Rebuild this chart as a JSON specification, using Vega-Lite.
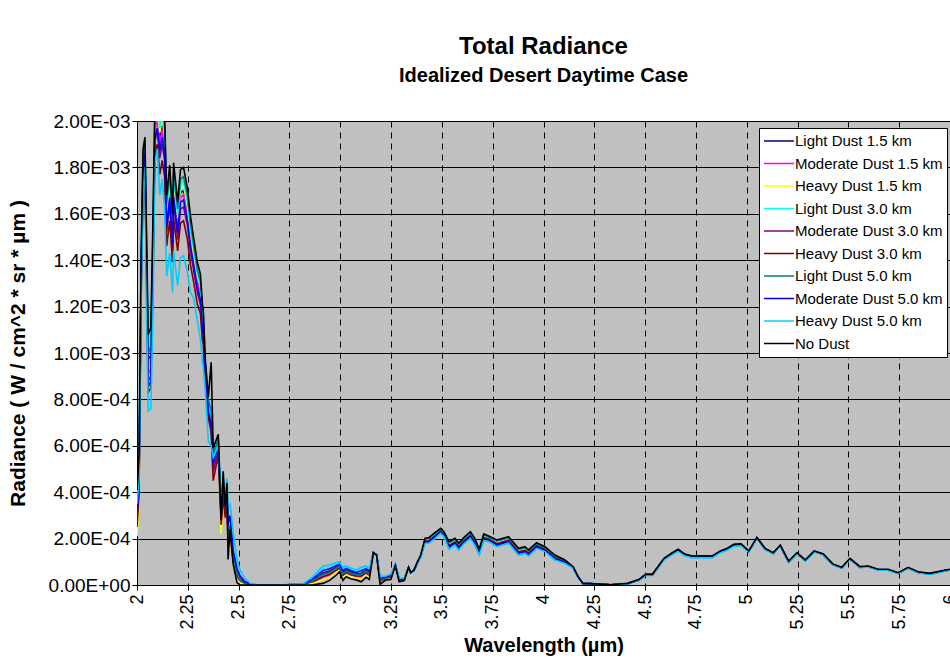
{
  "$schema": "https://vega.github.io/schema/vega-lite/v6.json",
  "autosize": {"type": "none"},
  "padding": {"left": 137, "top": 121, "right": 0, "bottom": 84},
  "width": 813,
  "height": 464,
  "background": "white",
  "title": {
    "text": "Total Radiance",
    "subtitle": "Idealized Desert Daytime Case",
    "font": "Liberation Sans",
    "fontSize": 24,
    "fontWeight": "bold",
    "color": "black",
    "subtitleFont": "Liberation Sans",
    "subtitleFontSize": 20,
    "subtitleFontWeight": "bold",
    "subtitleColor": "black",
    "subtitlePadding": 7,
    "anchor": "middle",
    "offset": 26
  },
  "data": {
    "values": [
      {"w":2.000,"a":3.2e-4,"b":2.8e-4,"c":2.1e-4,"d":3.3e-4,"e":2.9e-4,"f":2.5e-4,"g":3.4e-4,"h":3.0e-4,"i":3.5e-4,"j":4.1e-4},
      {"w":2.010,"a":4.6e-4,"b":4.3e-4,"c":3.6e-4,"d":4.8e-4,"e":4.2e-4,"f":3.9e-4,"g":5.0e-4,"h":4.5e-4,"i":4.6e-4,"j":5.5e-4},
      {"w":2.020,"a":13.2e-4,"b":13.0e-4,"c":12.8e-4,"d":13.5e-4,"e":12.6e-4,"f":12.2e-4,"g":13.7e-4,"h":12.9e-4,"i":12.0e-4,"j":14.0e-4},
      {"w":2.030,"a":18.2e-4,"b":18.0e-4,"c":18.1e-4,"d":18.4e-4,"e":17.6e-4,"f":17.3e-4,"g":18.6e-4,"h":17.9e-4,"i":17.0e-4,"j":18.8e-4},
      {"w":2.039,"a":18.8e-4,"b":18.6e-4,"c":18.8e-4,"d":19.0e-4,"e":18.3e-4,"f":18.0e-4,"g":19.1e-4,"h":18.6e-4,"i":18.0e-4,"j":19.3e-4},
      {"w":2.048,"a":13.6e-4,"b":13.4e-4,"c":13.5e-4,"d":13.9e-4,"e":12.9e-4,"f":12.4e-4,"g":14.1e-4,"h":13.1e-4,"i":11.3e-4,"j":14.5e-4},
      {"w":2.055,"a":9.7e-4,"b":9.1e-4,"c":8.4e-4,"d":9.5e-4,"e":8.8e-4,"f":8.3e-4,"g":10.0e-4,"h":8.5e-4,"i":7.5e-4,"j":10.8e-4},
      {"w":2.068,"a":9.9e-4,"b":9.3e-4,"c":8.7e-4,"d":9.8e-4,"e":9.0e-4,"f":8.5e-4,"g":10.3e-4,"h":8.8e-4,"i":7.6e-4,"j":11.1e-4},
      {"w":2.078,"a":14.2e-4,"b":13.8e-4,"c":13.6e-4,"d":14.4e-4,"e":13.2e-4,"f":12.6e-4,"g":14.9e-4,"h":13.5e-4,"i":11.4e-4,"j":15.5e-4},
      {"w":2.088,"a":19.8e-4,"b":19.6e-4,"c":19.9e-4,"d":20.1e-4,"e":19.1e-4,"f":18.6e-4,"g":20.3e-4,"h":19.3e-4,"i":18.2e-4,"j":20.6e-4},
      {"w":2.100,"a":20.3e-4,"b":20.1e-4,"c":20.4e-4,"d":20.7e-4,"e":19.6e-4,"f":19.0e-4,"g":20.9e-4,"h":19.7e-4,"i":18.8e-4,"j":21.2e-4},
      {"w":2.112,"a":19.3e-4,"b":19.0e-4,"c":19.5e-4,"d":19.7e-4,"e":18.4e-4,"f":17.7e-4,"g":20.0e-4,"h":18.7e-4,"i":16.8e-4,"j":20.4e-4},
      {"w":2.124,"a":19.9e-4,"b":19.6e-4,"c":20.1e-4,"d":20.3e-4,"e":19.0e-4,"f":18.3e-4,"g":20.6e-4,"h":19.3e-4,"i":17.5e-4,"j":21.0e-4},
      {"w":2.136,"a":19.1e-4,"b":18.9e-4,"c":19.3e-4,"d":19.5e-4,"e":18.3e-4,"f":17.6e-4,"g":19.8e-4,"h":18.6e-4,"i":16.2e-4,"j":20.2e-4},
      {"w":2.146,"a":15.9e-4,"b":15.7e-4,"c":16.0e-4,"d":16.2e-4,"e":15.2e-4,"f":14.6e-4,"g":16.5e-4,"h":15.5e-4,"i":13.3e-4,"j":16.8e-4},
      {"w":2.161,"a":17.1e-4,"b":16.9e-4,"c":17.3e-4,"d":17.5e-4,"e":16.4e-4,"f":15.7e-4,"g":17.7e-4,"h":16.7e-4,"i":14.3e-4,"j":18.1e-4},
      {"w":2.175,"a":15.1e-4,"b":15.0e-4,"c":15.3e-4,"d":15.4e-4,"e":14.5e-4,"f":13.9e-4,"g":15.7e-4,"h":14.7e-4,"i":12.6e-4,"j":16.0e-4},
      {"w":2.180,"a":17.2e-4,"b":17.0e-4,"c":17.4e-4,"d":17.6e-4,"e":16.5e-4,"f":15.8e-4,"g":17.8e-4,"h":16.7e-4,"i":14.4e-4,"j":18.2e-4},
      {"w":2.200,"a":15.6e-4,"b":15.4e-4,"c":15.8e-4,"d":15.9e-4,"e":14.9e-4,"f":14.4e-4,"g":16.2e-4,"h":15.2e-4,"i":12.9e-4,"j":16.5e-4},
      {"w":2.214,"a":16.9e-4,"b":16.7e-4,"c":17.1e-4,"d":17.3e-4,"e":16.2e-4,"f":15.6e-4,"g":17.5e-4,"h":16.5e-4,"i":14.1e-4,"j":17.9e-4},
      {"w":2.229,"a":17.0e-4,"b":16.8e-4,"c":17.2e-4,"d":17.4e-4,"e":16.3e-4,"f":15.7e-4,"g":17.6e-4,"h":16.6e-4,"i":14.2e-4,"j":18.0e-4},
      {"w":2.248,"a":16.2e-4,"b":16.0e-4,"c":16.3e-4,"d":16.5e-4,"e":15.5e-4,"f":14.9e-4,"g":16.8e-4,"h":15.7e-4,"i":13.5e-4,"j":17.1e-4},
      {"w":2.263,"a":15.0e-4,"b":14.9e-4,"c":15.2e-4,"d":15.3e-4,"e":14.4e-4,"f":13.8e-4,"g":15.6e-4,"h":14.6e-4,"i":12.6e-4,"j":15.9e-4},
      {"w":2.278,"a":14.2e-4,"b":14.0e-4,"c":14.3e-4,"d":14.5e-4,"e":13.6e-4,"f":13.1e-4,"g":14.7e-4,"h":13.8e-4,"i":12.4e-4,"j":15.0e-4},
      {"w":2.297,"a":13.1e-4,"b":13.0e-4,"c":13.3e-4,"d":13.4e-4,"e":12.6e-4,"f":12.1e-4,"g":13.6e-4,"h":12.8e-4,"i":11.4e-4,"j":13.9e-4},
      {"w":2.312,"a":12.7e-4,"b":12.5e-4,"c":12.8e-4,"d":12.9e-4,"e":12.1e-4,"f":11.7e-4,"g":13.1e-4,"h":12.3e-4,"i":10.6e-4,"j":13.4e-4},
      {"w":2.322,"a":11.4e-4,"b":11.3e-4,"c":11.6e-4,"d":11.7e-4,"e":11.0e-4,"f":10.5e-4,"g":11.9e-4,"h":11.1e-4,"i":9.6e-4,"j":12.1e-4},
      {"w":2.326,"a":11.2e-4,"b":11.1e-4,"c":11.4e-4,"d":11.5e-4,"e":10.8e-4,"f":10.4e-4,"g":11.7e-4,"h":10.9e-4,"i":9.4e-4,"j":11.9e-4},
      {"w":2.336,"a":9.3e-4,"b":9.2e-4,"c":9.4e-4,"d":9.5e-4,"e":9.0e-4,"f":8.7e-4,"g":9.6e-4,"h":9.1e-4,"i":8.4e-4,"j":9.7e-4},
      {"w":2.351,"a":7.7e-4,"b":7.6e-4,"c":7.8e-4,"d":7.9e-4,"e":7.4e-4,"f":7.2e-4,"g":8.0e-4,"h":7.5e-4,"i":6.2e-4,"j":8.1e-4},
      {"w":2.365,"a":7.0e-4,"b":6.9e-4,"c":7.0e-4,"d":7.2e-4,"e":6.8e-4,"f":6.6e-4,"g":7.5e-4,"h":6.9e-4,"i":6.0e-4,"j":9.6e-4},
      {"w":2.375,"a":5.3e-4,"b":5.1e-4,"c":4.9e-4,"d":5.5e-4,"e":4.9e-4,"f":4.5e-4,"g":5.6e-4,"h":5.2e-4,"i":5.5e-4,"j":5.9e-4},
      {"w":2.400,"a":6.1e-4,"b":6.0e-4,"c":5.9e-4,"d":6.2e-4,"e":5.8e-4,"f":5.6e-4,"g":6.3e-4,"h":6.0e-4,"i":6.0e-4,"j":6.5e-4},
      {"w":2.414,"a":3.0e-4,"b":2.7e-4,"c":2.2e-4,"d":3.2e-4,"e":2.8e-4,"f":2.6e-4,"g":3.0e-4,"h":3.3e-4,"i":3.8e-4,"j":2.8e-4},
      {"w":2.424,"a":4.3e-4,"b":4.1e-4,"c":3.9e-4,"d":4.5e-4,"e":4.0e-4,"f":3.8e-4,"g":4.6e-4,"h":4.3e-4,"i":4.5e-4,"j":4.9e-4},
      {"w":2.434,"a":3.3e-4,"b":3.1e-4,"c":2.9e-4,"d":3.5e-4,"e":3.1e-4,"f":2.9e-4,"g":3.4e-4,"h":3.5e-4,"i":3.9e-4,"j":3.4e-4},
      {"w":2.443,"a":4.0e-4,"b":3.8e-4,"c":3.6e-4,"d":4.2e-4,"e":3.8e-4,"f":3.6e-4,"g":4.2e-4,"h":4.1e-4,"i":4.6e-4,"j":4.4e-4},
      {"w":2.448,"a":2.0e-4,"b":1.7e-4,"c":1.4e-4,"d":2.3e-4,"e":1.9e-4,"f":1.6e-4,"g":1.9e-4,"h":2.6e-4,"i":3.5e-4,"j":1.1e-4},
      {"w":2.458,"a":2.6e-4,"b":2.4e-4,"c":2.2e-4,"d":2.8e-4,"e":2.5e-4,"f":2.3e-4,"g":2.6e-4,"h":3.0e-4,"i":3.5e-4,"j":2.4e-4},
      {"w":2.473,"a":1.2e-4,"b":1.0e-4,"c":0.8e-4,"d":1.4e-4,"e":1.2e-4,"f":1.0e-4,"g":1.2e-4,"h":1.5e-4,"i":2.3e-4,"j":0.9e-4},
      {"w":2.492,"a":0.5e-4,"b":0.35e-4,"c":0.2e-4,"d":0.7e-4,"e":0.5e-4,"f":0.4e-4,"g":0.45e-4,"h":0.7e-4,"i":1.1e-4,"j":0.1e-4},
      {"w":2.507,"a":0.25e-4,"b":0.15e-4,"c":0.1e-4,"d":0.35e-4,"e":0.25e-4,"f":0.2e-4,"g":0.2e-4,"h":0.4e-4,"i":0.65e-4,"j":0},
      {"w":2.530,"a":0.08e-4,"b":0.05e-4,"c":0.02e-4,"d":0.12e-4,"e":0.1e-4,"f":0.08e-4,"g":0.06e-4,"h":0.15e-4,"i":0.3e-4,"j":0},
      {"w":2.560,"a":0.02e-4,"b":0.02e-4,"c":0.01e-4,"d":0.03e-4,"e":0.02e-4,"f":0.02e-4,"g":0.02e-4,"h":0.03e-4,"i":0.05e-4,"j":0},
      {"w":2.600,"a":0,"b":0,"c":0,"d":0,"e":0,"f":0,"g":0,"h":0,"i":0.01e-4,"j":0},
      {"w":2.700,"a":0,"b":0,"c":0,"d":0,"e":0,"f":0,"g":0,"h":0,"i":0,"j":0},
      {"w":2.817,"a":0.03e-4,"b":0.02e-4,"c":0.01e-4,"d":0.04e-4,"e":0.03e-4,"f":0.02e-4,"g":0.025e-4,"h":0.04e-4,"i":0.05e-4,"j":0},
      {"w":2.866,"a":0.22e-4,"b":0.13e-4,"c":0.08e-4,"d":0.31e-4,"e":0.20e-4,"f":0.15e-4,"g":0.19e-4,"h":0.27e-4,"i":0.36e-4,"j":0.01e-4},
      {"w":2.915,"a":0.52e-4,"b":0.33e-4,"c":0.22e-4,"d":0.71e-4,"e":0.48e-4,"f":0.37e-4,"g":0.45e-4,"h":0.63e-4,"i":0.82e-4,"j":0.07e-4},
      {"w":2.948,"a":0.60e-4,"b":0.43e-4,"c":0.33e-4,"d":0.76e-4,"e":0.56e-4,"f":0.46e-4,"g":0.53e-4,"h":0.70e-4,"i":0.86e-4,"j":0.2e-4},
      {"w":2.980,"a":0.75e-4,"b":0.62e-4,"c":0.54e-4,"d":0.88e-4,"e":0.72e-4,"f":0.64e-4,"g":0.70e-4,"h":0.83e-4,"i":0.96e-4,"j":0.43e-4},
      {"w":2.997,"a":0.83e-4,"b":0.72e-4,"c":0.66e-4,"d":0.94e-4,"e":0.81e-4,"f":0.74e-4,"g":0.79e-4,"h":0.89e-4,"i":1.0e-4,"j":0.57e-4},
      {"w":3.013,"a":0.54e-4,"b":0.40e-4,"c":0.31e-4,"d":0.68e-4,"e":0.51e-4,"f":0.42e-4,"g":0.48e-4,"h":0.62e-4,"i":0.76e-4,"j":0.2e-4},
      {"w":3.029,"a":0.64e-4,"b":0.52e-4,"c":0.45e-4,"d":0.75e-4,"e":0.61e-4,"f":0.54e-4,"g":0.59e-4,"h":0.71e-4,"i":0.82e-4,"j":0.36e-4},
      {"w":3.054,"a":0.54e-4,"b":0.42e-4,"c":0.35e-4,"d":0.65e-4,"e":0.51e-4,"f":0.44e-4,"g":0.49e-4,"h":0.61e-4,"i":0.72e-4,"j":0.26e-4},
      {"w":3.078,"a":0.48e-4,"b":0.37e-4,"c":0.31e-4,"d":0.59e-4,"e":0.46e-4,"f":0.39e-4,"g":0.44e-4,"h":0.54e-4,"i":0.65e-4,"j":0.22e-4},
      {"w":3.103,"a":0.51e-4,"b":0.36e-4,"c":0.26e-4,"d":0.67e-4,"e":0.48e-4,"f":0.39e-4,"g":0.45e-4,"h":0.61e-4,"i":0.76e-4,"j":0.14e-4},
      {"w":3.127,"a":0.62e-4,"b":0.50e-4,"c":0.43e-4,"d":0.75e-4,"e":0.60e-4,"f":0.53e-4,"g":0.58e-4,"h":0.70e-4,"i":0.82e-4,"j":0.33e-4},
      {"w":3.143,"a":0.53e-4,"b":0.41e-4,"c":0.34e-4,"d":0.65e-4,"e":0.50e-4,"f":0.43e-4,"g":0.48e-4,"h":0.60e-4,"i":0.72e-4,"j":0.24e-4},
      {"w":3.163,"a":1.39e-4,"b":1.39e-4,"c":1.39e-4,"d":1.39e-4,"e":1.39e-4,"f":1.39e-4,"g":1.39e-4,"h":1.39e-4,"i":1.38e-4,"j":1.39e-4},
      {"w":3.179,"a":1.29e-4,"b":1.29e-4,"c":1.29e-4,"d":1.29e-4,"e":1.29e-4,"f":1.29e-4,"g":1.29e-4,"h":1.29e-4,"i":1.28e-4,"j":1.29e-4},
      {"w":3.196,"a":0.23e-4,"b":0.15e-4,"c":0.10e-4,"d":0.31e-4,"e":0.21e-4,"f":0.16e-4,"g":0.20e-4,"h":0.28e-4,"i":0.36e-4,"j":0.03e-4},
      {"w":3.225,"a":0.32e-4,"b":0.28e-4,"c":0.25e-4,"d":0.36e-4,"e":0.31e-4,"f":0.29e-4,"g":0.31e-4,"h":0.35e-4,"i":0.39e-4,"j":0.22e-4},
      {"w":3.249,"a":0.38e-4,"b":0.32e-4,"c":0.29e-4,"d":0.44e-4,"e":0.37e-4,"f":0.33e-4,"g":0.36e-4,"h":0.41e-4,"i":0.47e-4,"j":0.24e-4},
      {"w":3.271,"a":0.86e-4,"b":0.85e-4,"c":0.84e-4,"d":0.87e-4,"e":0.86e-4,"f":0.85e-4,"g":0.86e-4,"h":0.87e-4,"i":0.88e-4,"j":0.83e-4},
      {"w":3.290,"a":0.23e-4,"b":0.19e-4,"c":0.17e-4,"d":0.27e-4,"e":0.22e-4,"f":0.20e-4,"g":0.22e-4,"h":0.25e-4,"i":0.29e-4,"j":0.14e-4},
      {"w":3.315,"a":0.26e-4,"b":0.23e-4,"c":0.21e-4,"d":0.28e-4,"e":0.25e-4,"f":0.23e-4,"g":0.25e-4,"h":0.27e-4,"i":0.30e-4,"j":0.19e-4},
      {"w":3.336,"a":0.75e-4,"b":0.75e-4,"c":0.75e-4,"d":0.75e-4,"e":0.75e-4,"f":0.75e-4,"g":0.75e-4,"h":0.75e-4,"i":0.74e-4,"j":0.76e-4},
      {"w":3.347,"a":0.51e-4,"b":0.51e-4,"c":0.43e-4,"d":0.51e-4,"e":0.51e-4,"f":0.51e-4,"g":0.51e-4,"h":0.51e-4,"i":0.50e-4,"j":0.53e-4},
      {"w":3.363,"a":0.63e-4,"b":0.63e-4,"c":0.63e-4,"d":0.63e-4,"e":0.63e-4,"f":0.63e-4,"g":0.63e-4,"h":0.63e-4,"i":0.62e-4,"j":0.65e-4},
      {"w":3.380,"a":0.98e-4,"b":0.98e-4,"c":0.98e-4,"d":0.99e-4,"e":0.97e-4,"f":0.97e-4,"g":0.99e-4,"h":0.96e-4,"i":0.95e-4,"j":1.0e-4},
      {"w":3.396,"a":1.25e-4,"b":1.25e-4,"c":1.26e-4,"d":1.27e-4,"e":1.24e-4,"f":1.24e-4,"g":1.28e-4,"h":1.22e-4,"i":1.20e-4,"j":1.29e-4},
      {"w":3.417,"a":1.92e-4,"b":1.93e-4,"c":1.95e-4,"d":1.97e-4,"e":1.88e-4,"f":1.89e-4,"g":1.98e-4,"h":1.85e-4,"i":1.80e-4,"j":2.01e-4},
      {"w":3.437,"a":1.94e-4,"b":1.95e-4,"c":1.98e-4,"d":2.00e-4,"e":1.90e-4,"f":1.91e-4,"g":2.01e-4,"h":1.86e-4,"i":1.80e-4,"j":2.05e-4},
      {"w":3.461,"a":2.11e-4,"b":2.13e-4,"c":2.15e-4,"d":2.18e-4,"e":2.07e-4,"f":2.09e-4,"g":2.19e-4,"h":2.04e-4,"i":1.97e-4,"j":2.23e-4},
      {"w":3.494,"a":2.35e-4,"b":2.36e-4,"c":2.38e-4,"d":2.40e-4,"e":2.31e-4,"f":2.32e-4,"g":2.41e-4,"h":2.28e-4,"i":2.23e-4,"j":2.44e-4},
      {"w":3.510,"a":2.20e-4,"b":2.21e-4,"c":2.23e-4,"d":2.26e-4,"e":2.17e-4,"f":2.18e-4,"g":2.27e-4,"h":2.14e-4,"i":2.08e-4,"j":2.30e-4},
      {"w":3.535,"a":1.73e-4,"b":1.74e-4,"c":1.77e-4,"d":1.81e-4,"e":1.68e-4,"f":1.69e-4,"g":1.82e-4,"h":1.63e-4,"i":1.55e-4,"j":1.87e-4},
      {"w":3.564,"a":1.88e-4,"b":1.89e-4,"c":1.92e-4,"d":1.95e-4,"e":1.84e-4,"f":1.85e-4,"g":1.97e-4,"h":1.79e-4,"i":1.72e-4,"j":2.01e-4},
      {"w":3.583,"a":1.67e-4,"b":1.68e-4,"c":1.71e-4,"d":1.74e-4,"e":1.63e-4,"f":1.64e-4,"g":1.76e-4,"h":1.58e-4,"i":1.51e-4,"j":1.80e-4},
      {"w":3.608,"a":1.92e-4,"b":1.94e-4,"c":1.97e-4,"d":1.99e-4,"e":1.88e-4,"f":1.90e-4,"g":2.01e-4,"h":1.84e-4,"i":1.77e-4,"j":2.05e-4},
      {"w":3.640,"a":2.17e-4,"b":2.18e-4,"c":2.21e-4,"d":2.24e-4,"e":2.13e-4,"f":2.14e-4,"g":2.26e-4,"h":2.08e-4,"i":2.01e-4,"j":2.30e-4},
      {"w":3.662,"a":1.88e-4,"b":1.89e-4,"c":1.92e-4,"d":1.95e-4,"e":1.84e-4,"f":1.85e-4,"g":1.97e-4,"h":1.79e-4,"i":1.72e-4,"j":2.01e-4},
      {"w":3.684,"a":1.43e-4,"b":1.44e-4,"c":1.47e-4,"d":1.49e-4,"e":1.39e-4,"f":1.40e-4,"g":1.50e-4,"h":1.35e-4,"i":1.29e-4,"j":1.54e-4},
      {"w":3.706,"a":2.07e-4,"b":2.08e-4,"c":2.11e-4,"d":2.14e-4,"e":2.03e-4,"f":2.04e-4,"g":2.16e-4,"h":1.98e-4,"i":1.91e-4,"j":2.20e-4},
      {"w":3.730,"a":2.00e-4,"b":2.01e-4,"c":2.04e-4,"d":2.06e-4,"e":1.97e-4,"f":1.98e-4,"g":2.07e-4,"h":1.93e-4,"i":1.87e-4,"j":2.11e-4},
      {"w":3.771,"a":1.81e-4,"b":1.82e-4,"c":1.85e-4,"d":1.88e-4,"e":1.77e-4,"f":1.78e-4,"g":1.90e-4,"h":1.72e-4,"i":1.65e-4,"j":1.94e-4},
      {"w":3.828,"a":1.95e-4,"b":1.97e-4,"c":2.00e-4,"d":2.02e-4,"e":1.91e-4,"f":1.93e-4,"g":2.04e-4,"h":1.87e-4,"i":1.80e-4,"j":2.08e-4},
      {"w":3.877,"a":1.45e-4,"b":1.46e-4,"c":1.49e-4,"d":1.52e-4,"e":1.41e-4,"f":1.42e-4,"g":1.54e-4,"h":1.36e-4,"i":1.29e-4,"j":1.58e-4},
      {"w":3.909,"a":1.52e-4,"b":1.53e-4,"c":1.56e-4,"d":1.59e-4,"e":1.48e-4,"f":1.49e-4,"g":1.61e-4,"h":1.43e-4,"i":1.36e-4,"j":1.65e-4},
      {"w":3.926,"a":1.39e-4,"b":1.41e-4,"c":1.43e-4,"d":1.46e-4,"e":1.35e-4,"f":1.37e-4,"g":1.47e-4,"h":1.32e-4,"i":1.25e-4,"j":1.51e-4},
      {"w":3.966,"a":1.71e-4,"b":1.72e-4,"c":1.75e-4,"d":1.77e-4,"e":1.68e-4,"f":1.69e-4,"g":1.78e-4,"h":1.64e-4,"i":1.58e-4,"j":1.82e-4},
      {"w":4.007,"a":1.56e-4,"b":1.57e-4,"c":1.59e-4,"d":1.61e-4,"e":1.52e-4,"f":1.53e-4,"g":1.62e-4,"h":1.49e-4,"i":1.44e-4,"j":1.65e-4},
      {"w":4.056,"a":1.20e-4,"b":1.21e-4,"c":1.23e-4,"d":1.25e-4,"e":1.16e-4,"f":1.17e-4,"g":1.26e-4,"h":1.13e-4,"i":1.08e-4,"j":1.29e-4},
      {"w":4.105,"a":1.01e-4,"b":1.02e-4,"c":1.04e-4,"d":1.05e-4,"e":0.99e-4,"f":1.00e-4,"g":1.06e-4,"h":0.97e-4,"i":0.93e-4,"j":1.08e-4},
      {"w":4.146,"a":0.76e-4,"b":0.76e-4,"c":0.77e-4,"d":0.78e-4,"e":0.75e-4,"f":0.75e-4,"g":0.78e-4,"h":0.74e-4,"i":0.72e-4,"j":0.79e-4},
      {"w":4.170,"a":0.35e-4,"b":0.35e-4,"c":0.35e-4,"d":0.35e-4,"e":0.35e-4,"f":0.35e-4,"g":0.35e-4,"h":0.34e-4,"i":0.33e-4,"j":0.36e-4},
      {"w":4.194,"a":0.07e-4,"b":0.07e-4,"c":0.07e-4,"d":0.07e-4,"e":0.07e-4,"f":0.07e-4,"g":0.07e-4,"h":0.07e-4,"i":0.07e-4,"j":0.07e-4},
      {"w":4.252,"a":0.05e-4,"b":0.05e-4,"c":0.05e-4,"d":0.05e-4,"e":0.05e-4,"f":0.05e-4,"g":0.05e-4,"h":0.04e-4,"i":0.04e-4,"j":0.05e-4},
      {"w":4.300,"a":0.03e-4,"b":0.03e-4,"c":0.03e-4,"d":0.03e-4,"e":0.03e-4,"f":0.03e-4,"g":0.03e-4,"h":0.03e-4,"i":0.03e-4,"j":0.03e-4},
      {"w":4.330,"a":0.01e-4,"b":0.01e-4,"c":0.01e-4,"d":0.01e-4,"e":0.01e-4,"f":0.01e-4,"g":0.01e-4,"h":0,"i":0,"j":0.01e-4},
      {"w":4.413,"a":0.06e-4,"b":0.06e-4,"c":0.06e-4,"d":0.06e-4,"e":0.06e-4,"f":0.06e-4,"g":0.06e-4,"h":0.05e-4,"i":0.05e-4,"j":0.07e-4},
      {"w":4.470,"a":0.23e-4,"b":0.23e-4,"c":0.23e-4,"d":0.23e-4,"e":0.23e-4,"f":0.23e-4,"g":0.23e-4,"h":0.21e-4,"i":0.20e-4,"j":0.24e-4},
      {"w":4.503,"a":0.45e-4,"b":0.45e-4,"c":0.45e-4,"d":0.45e-4,"e":0.45e-4,"f":0.45e-4,"g":0.45e-4,"h":0.43e-4,"i":0.42e-4,"j":0.46e-4},
      {"w":4.536,"a":0.45e-4,"b":0.45e-4,"c":0.45e-4,"d":0.45e-4,"e":0.45e-4,"f":0.45e-4,"g":0.45e-4,"h":0.43e-4,"i":0.41e-4,"j":0.46e-4},
      {"w":4.593,"a":1.13e-4,"b":1.13e-4,"c":1.13e-4,"d":1.13e-4,"e":1.13e-4,"f":1.13e-4,"g":1.13e-4,"h":1.11e-4,"i":1.07e-4,"j":1.15e-4},
      {"w":4.634,"a":1.37e-4,"b":1.37e-4,"c":1.37e-4,"d":1.37e-4,"e":1.37e-4,"f":1.37e-4,"g":1.37e-4,"h":1.35e-4,"i":1.31e-4,"j":1.39e-4},
      {"w":4.662,"a":1.52e-4,"b":1.52e-4,"c":1.52e-4,"d":1.52e-4,"e":1.52e-4,"f":1.52e-4,"g":1.52e-4,"h":1.50e-4,"i":1.45e-4,"j":1.54e-4},
      {"w":4.694,"a":1.32e-4,"b":1.32e-4,"c":1.32e-4,"d":1.32e-4,"e":1.32e-4,"f":1.32e-4,"g":1.32e-4,"h":1.30e-4,"i":1.26e-4,"j":1.34e-4},
      {"w":4.732,"a":1.23e-4,"b":1.23e-4,"c":1.23e-4,"d":1.23e-4,"e":1.23e-4,"f":1.23e-4,"g":1.23e-4,"h":1.21e-4,"i":1.17e-4,"j":1.25e-4},
      {"w":4.780,"a":1.24e-4,"b":1.24e-4,"c":1.24e-4,"d":1.24e-4,"e":1.24e-4,"f":1.24e-4,"g":1.24e-4,"h":1.22e-4,"i":1.18e-4,"j":1.26e-4},
      {"w":4.830,"a":1.23e-4,"b":1.23e-4,"c":1.23e-4,"d":1.23e-4,"e":1.23e-4,"f":1.23e-4,"g":1.23e-4,"h":1.21e-4,"i":1.17e-4,"j":1.25e-4},
      {"w":4.870,"a":1.45e-4,"b":1.45e-4,"c":1.45e-4,"d":1.45e-4,"e":1.45e-4,"f":1.45e-4,"g":1.45e-4,"h":1.43e-4,"i":1.39e-4,"j":1.47e-4},
      {"w":4.904,"a":1.56e-4,"b":1.56e-4,"c":1.56e-4,"d":1.56e-4,"e":1.56e-4,"f":1.56e-4,"g":1.56e-4,"h":1.54e-4,"i":1.50e-4,"j":1.58e-4},
      {"w":4.936,"a":1.73e-4,"b":1.73e-4,"c":1.73e-4,"d":1.73e-4,"e":1.73e-4,"f":1.73e-4,"g":1.73e-4,"h":1.71e-4,"i":1.67e-4,"j":1.75e-4},
      {"w":4.972,"a":1.75e-4,"b":1.75e-4,"c":1.75e-4,"d":1.75e-4,"e":1.75e-4,"f":1.75e-4,"g":1.75e-4,"h":1.73e-4,"i":1.69e-4,"j":1.77e-4},
      {"w":5.010,"a":1.45e-4,"b":1.45e-4,"c":1.45e-4,"d":1.45e-4,"e":1.45e-4,"f":1.45e-4,"g":1.45e-4,"h":1.44e-4,"i":1.42e-4,"j":1.47e-4},
      {"w":5.050,"a":2.03e-4,"b":2.03e-4,"c":2.03e-4,"d":2.03e-4,"e":2.03e-4,"f":2.03e-4,"g":2.03e-4,"h":2.02e-4,"i":2.00e-4,"j":2.05e-4},
      {"w":5.090,"a":1.56e-4,"b":1.56e-4,"c":1.56e-4,"d":1.56e-4,"e":1.56e-4,"f":1.56e-4,"g":1.56e-4,"h":1.55e-4,"i":1.54e-4,"j":1.58e-4},
      {"w":5.130,"a":1.37e-4,"b":1.37e-4,"c":1.37e-4,"d":1.37e-4,"e":1.37e-4,"f":1.37e-4,"g":1.37e-4,"h":1.36e-4,"i":1.35e-4,"j":1.39e-4},
      {"w":5.165,"a":1.70e-4,"b":1.70e-4,"c":1.70e-4,"d":1.70e-4,"e":1.70e-4,"f":1.70e-4,"g":1.70e-4,"h":1.69e-4,"i":1.68e-4,"j":1.72e-4},
      {"w":5.206,"a":1.01e-4,"b":1.01e-4,"c":1.01e-4,"d":1.01e-4,"e":1.01e-4,"f":1.01e-4,"g":1.01e-4,"h":1.00e-4,"i":0.99e-4,"j":1.03e-4},
      {"w":5.247,"a":1.37e-4,"b":1.37e-4,"c":1.37e-4,"d":1.37e-4,"e":1.37e-4,"f":1.37e-4,"g":1.37e-4,"h":1.36e-4,"i":1.35e-4,"j":1.39e-4},
      {"w":5.288,"a":1.06e-4,"b":1.06e-4,"c":1.06e-4,"d":1.06e-4,"e":1.06e-4,"f":1.06e-4,"g":1.06e-4,"h":1.05e-4,"i":1.04e-4,"j":1.08e-4},
      {"w":5.332,"a":1.45e-4,"b":1.45e-4,"c":1.45e-4,"d":1.45e-4,"e":1.45e-4,"f":1.45e-4,"g":1.45e-4,"h":1.44e-4,"i":1.43e-4,"j":1.47e-4},
      {"w":5.377,"a":1.32e-4,"b":1.32e-4,"c":1.32e-4,"d":1.32e-4,"e":1.32e-4,"f":1.32e-4,"g":1.32e-4,"h":1.31e-4,"i":1.30e-4,"j":1.34e-4},
      {"w":5.423,"a":0.89e-4,"b":0.89e-4,"c":0.89e-4,"d":0.89e-4,"e":0.89e-4,"f":0.89e-4,"g":0.89e-4,"h":0.88e-4,"i":0.87e-4,"j":0.91e-4},
      {"w":5.467,"a":0.74e-4,"b":0.74e-4,"c":0.74e-4,"d":0.74e-4,"e":0.74e-4,"f":0.74e-4,"g":0.74e-4,"h":0.73e-4,"i":0.72e-4,"j":0.76e-4},
      {"w":5.508,"a":1.13e-4,"b":1.13e-4,"c":1.13e-4,"d":1.13e-4,"e":1.13e-4,"f":1.13e-4,"g":1.13e-4,"h":1.12e-4,"i":1.11e-4,"j":1.15e-4},
      {"w":5.557,"a":0.77e-4,"b":0.77e-4,"c":0.77e-4,"d":0.77e-4,"e":0.77e-4,"f":0.77e-4,"g":0.77e-4,"h":0.76e-4,"i":0.75e-4,"j":0.79e-4},
      {"w":5.598,"a":0.80e-4,"b":0.80e-4,"c":0.80e-4,"d":0.80e-4,"e":0.80e-4,"f":0.80e-4,"g":0.80e-4,"h":0.79e-4,"i":0.78e-4,"j":0.82e-4},
      {"w":5.647,"a":0.66e-4,"b":0.66e-4,"c":0.66e-4,"d":0.66e-4,"e":0.66e-4,"f":0.66e-4,"g":0.66e-4,"h":0.65e-4,"i":0.64e-4,"j":0.68e-4},
      {"w":5.696,"a":0.66e-4,"b":0.66e-4,"c":0.66e-4,"d":0.66e-4,"e":0.66e-4,"f":0.66e-4,"g":0.66e-4,"h":0.65e-4,"i":0.64e-4,"j":0.68e-4},
      {"w":5.745,"a":0.51e-4,"b":0.51e-4,"c":0.51e-4,"d":0.51e-4,"e":0.51e-4,"f":0.51e-4,"g":0.51e-4,"h":0.50e-4,"i":0.49e-4,"j":0.53e-4},
      {"w":5.794,"a":0.74e-4,"b":0.74e-4,"c":0.74e-4,"d":0.74e-4,"e":0.74e-4,"f":0.74e-4,"g":0.74e-4,"h":0.73e-4,"i":0.72e-4,"j":0.76e-4},
      {"w":5.843,"a":0.55e-4,"b":0.55e-4,"c":0.55e-4,"d":0.55e-4,"e":0.55e-4,"f":0.55e-4,"g":0.55e-4,"h":0.54e-4,"i":0.53e-4,"j":0.57e-4},
      {"w":5.900,"a":0.48e-4,"b":0.48e-4,"c":0.48e-4,"d":0.48e-4,"e":0.48e-4,"f":0.48e-4,"g":0.48e-4,"h":0.47e-4,"i":0.46e-4,"j":0.50e-4},
      {"w":5.980,"a":0.63e-4,"b":0.63e-4,"c":0.63e-4,"d":0.63e-4,"e":0.63e-4,"f":0.63e-4,"g":0.63e-4,"h":0.62e-4,"i":0.61e-4,"j":0.65e-4},
      {"w":6.000,"a":0.66e-4,"b":0.66e-4,"c":0.66e-4,"d":0.66e-4,"e":0.66e-4,"f":0.66e-4,"g":0.66e-4,"h":0.65e-4,"i":0.64e-4,"j":0.68e-4}
    ]
  },
  "transform": [
    {"fold": ["a","b","c","d","e","f","g","h","i","j"], "as": ["s","v"]}
  ],
  "mark": {"type": "line", "strokeWidth": 1.6, "clip": true},
  "encoding": {
    "x": {
      "field": "w",
      "type": "quantitative",
      "scale": {"domain": [2, 6], "nice": false, "zero": false},
      "axis": {
        "title": "Wavelength (µm)",
        "values": [2,2.25,2.5,2.75,3,3.25,3.5,3.75,4,4.25,4.5,4.75,5,5.25,5.5,5.75,6],
        "labelExpr": "toString(datum.value)",
        "labelAngle": 270,
        "labelPadding": 4,
        "labelFlush": false,
        "labelOverlap": false,
        "grid": true,
        "gridColor": "black",
        "gridOpacity": 1,
        "gridWidth": 1,
        "gridDash": [6, 5],
        "titlePadding": 6
      }
    },
    "y": {
      "field": "v",
      "type": "quantitative",
      "scale": {"domain": [0, 0.002], "nice": false, "zero": true},
      "axis": {
        "title": "Radiance ( W / cm^2 * sr * µm )",
        "titleFontSize": 21,
        "values": [0,0.0002,0.0004,0.0006,0.0008,0.001,0.0012,0.0014,0.0016,0.0018,0.002],
        "labelExpr": "datum.value == 0 ? '0.00E+00' : (datum.value >= 0.00099 ? format(datum.value * 1000, '.2f') + 'E-03' : format(datum.value * 10000, '.2f') + 'E-04')",
        "labelFontSize": 19,
        "labelFlush": false,
        "labelOverlap": false,
        "grid": true,
        "gridColor": "black",
        "gridOpacity": 1,
        "gridWidth": 1,
        "titlePadding": 20
      }
    },
    "color": {
      "field": "s",
      "type": "nominal",
      "scale": {
        "domain": ["a","b","c","d","e","f","g","h","i","j"],
        "range": ["#000080","#FF00FF","#FFFF00","#00FFFF","#800080","#800000","#008080","#0000FF","#00CCFF","#000000"]
      },
      "legend": {
        "title": null,
        "orient": "none",
        "legendX": 622,
        "legendY": 7,
        "fillColor": "white",
        "strokeColor": "black",
        "padding": 4,
        "symbolType": "stroke",
        "symbolSize": 900,
        "symbolStrokeWidth": 1.5,
        "clipHeight": 18,
        "rowPadding": 4.5,
        "labelOffset": 0,
        "labelLimit": 0,
        "labelFont": "Liberation Sans",
        "labelFontSize": 15,
        "labelColor": "black",
        "labelExpr": "datum.label == 'a' ? 'Light Dust 1.5 km' : datum.label == 'b' ? 'Moderate Dust 1.5 km' : datum.label == 'c' ? 'Heavy Dust 1.5 km' : datum.label == 'd' ? 'Light Dust 3.0 km' : datum.label == 'e' ? 'Moderate Dust 3.0 km' : datum.label == 'f' ? 'Heavy Dust 3.0 km' : datum.label == 'g' ? 'Light Dust 5.0 km' : datum.label == 'h' ? 'Moderate Dust 5.0 km' : datum.label == 'i' ? 'Heavy Dust 5.0 km' : 'No Dust'"
      }
    }
  },
  "config": {
    "view": {"fill": "#C0C0C0", "stroke": null},
    "axis": {
      "domainColor": "black",
      "domainWidth": 1,
      "tickColor": "black",
      "tickSize": 5,
      "labelFont": "Liberation Sans",
      "labelFontSize": 18,
      "labelColor": "black",
      "titleFont": "Liberation Sans",
      "titleFontSize": 20,
      "titleFontWeight": "bold",
      "titleColor": "black"
    }
  }
}
